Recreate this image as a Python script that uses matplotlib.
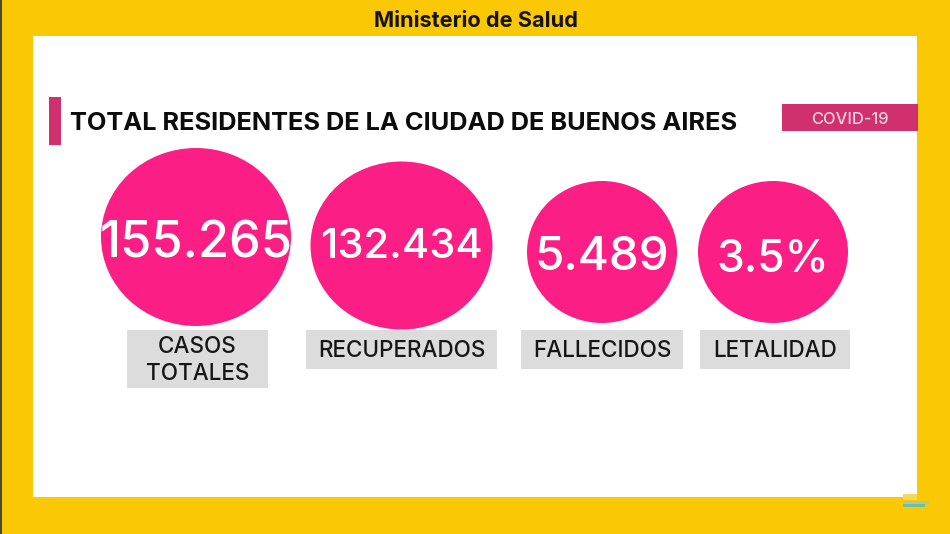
import matplotlib
matplotlib.use('Agg')
import matplotlib.pyplot as plt
from matplotlib.patches import Ellipse, Rectangle

# datos de la placa
valores = ['155.265', '132.434', '5.489', '3.5%']
categorias = ['CASOS\nTOTALES', 'RECUPERADOS', 'FALLECIDOS', 'LETALIDAD']
titulo = 'TOTAL RESIDENTES DE LA CIUDAD DE BUENOS AIRES'
encabezado = 'Ministerio de Salud'
etiqueta = 'COVID-19'

# posiciones en pixeles de la imagen
circulos = [(196, 237, 190, 178), (401.5, 245.5, 182, 168), (602, 252, 150, 142), (773, 252, 150, 142)]
tam_valor = [36.4, 30, 34.2, 32]
y_valor = [244, 247.5, 258, 259]
cajas = [(127, 330, 141, 58), (306, 330, 191, 39), (521, 330, 162, 39), (700, 330, 150, 39)]

AMARILLO = '#FBC806'
ROSA = '#FB1F85'
MAGENTA = '#D1306F'
GRIS = '#DCDCDC'

plt.rcParams['font.family'] = ['Inter', 'DejaVu Sans']

fig = plt.figure(figsize=(9.5, 5.34), dpi=100, facecolor=AMARILLO)
ax = fig.add_axes([0, 0, 1, 1])
ax.set_xlim(0, 950)
ax.set_ylim(534, 0)
ax.axis('off')


def caja(x, y, w, h, color, zorder=1):
    ax.add_patch(Rectangle((x, y), w, h, facecolor=color, edgecolor='none', zorder=zorder))


# fondo
caja(0, 0, 1.5, 534, '#4A4A30')
caja(33, 36, 884, 461, 'white')
ax.text(475.5, 21, encabezado, ha='center', va='center', fontsize=15.6, fontweight='bold', color='#15130A')

# titulo
caja(49, 97, 12, 48, MAGENTA)
ax.text(70, 123.5, titulo, ha='left', va='center', fontsize=18.3, fontweight='bold', color='#0C0C0C')
caja(782, 104, 136, 27, MAGENTA)
ax.text(850, 119, etiqueta, ha='center', va='center', fontsize=11.9, fontweight='medium', color='#F8D3E2')

# circulos y valores
for (cx, cy, w, h), valor, tam, yv in zip(circulos, valores, tam_valor, y_valor):
    ax.add_patch(Ellipse((cx, cy), w, h, facecolor=ROSA, edgecolor='none', zorder=2))
    ax.text(cx, yv, valor, ha='center', va='center', fontsize=tam, fontweight='medium', color='white', zorder=3)

# etiquetas
for (x, y, w, h), cat in zip(cajas, categorias):
    caja(x, y, w, h, GRIS)
    ax.text(x + w / 2, y + h / 2 + 1.5, cat, ha='center', va='center', fontsize=16.2, fontweight='medium',
            color='#161616', linespacing=1.28, zorder=3)

# logo de la esquina
caja(903, 494, 14, 6, '#F5D75A', 4)
caja(903, 501, 26, 3, '#A8CF8E', 4)
caja(903, 504, 22, 3, '#6FBFA8', 4)

fig.savefig('out.png', dpi=100, facecolor=AMARILLO)
